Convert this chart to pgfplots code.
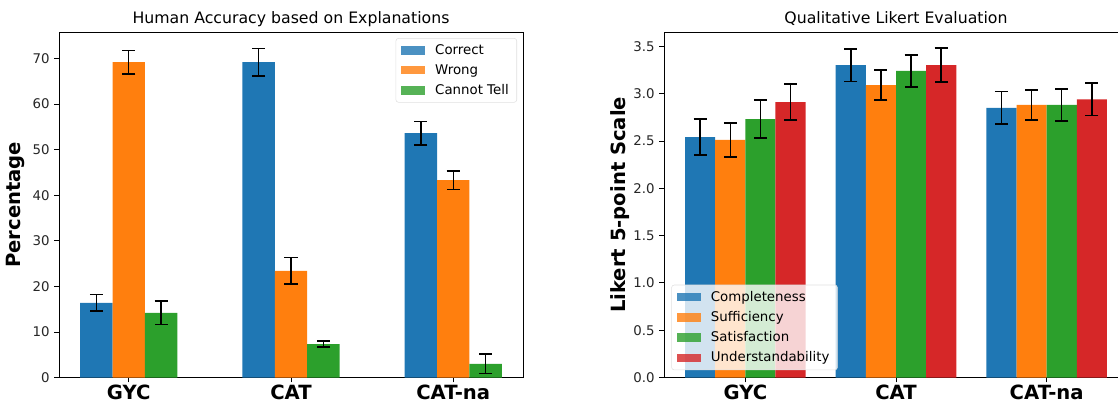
\documentclass[border=0pt]{standalone}
\usepackage{fontspec}
\setmainfont{DejaVu Sans}
\usepackage{pgfplots}
\pgfplotsset{compat=1.18}

\definecolor{tabblue}{HTML}{1F77B4}
\definecolor{taborange}{HTML}{FF7F0E}
\definecolor{tabgreen}{HTML}{2CA02C}
\definecolor{tabred}{HTML}{D62728}

\pgfplotsset{
  mplbars/.style={
    scale only axis,
    anchor=south west,
    width=348pt, height=259.1pt,
    ybar, bar width=0.2,
    ymin=0,
    xtick={0,1,2},
    xticklabels={GYC,CAT,CAT-na},
    xtick pos=bottom, ytick pos=left,
    tick align=outside,
    major tick length=3.6pt,
    tick style={black, line width=0.6pt},
    axis line style={black, line width=0.6pt},
    /pgf/number format/assume math mode=true,
    yticklabel style={font=\fontsize{10}{12}\selectfont, color=black!85},
    xticklabel style={font=\bfseries\fontsize{14.7}{17}\selectfont, yshift=1.6pt},
    title style={font=\fontsize{11.8}{14}\selectfont, at={(axis description cs:0.5,1)}, anchor=base, yshift=0.5pt},
    ylabel style={font=\bfseries\fontsize{14.7}{17}\selectfont, anchor=center, rotate=0},
    legend image code/.code={\fill[##1, sharp corners] (0pt,-3.2pt) rectangle (18pt,3.2pt);},
    legend cell align=left,
    legend style={font=\fontsize{10}{12}\selectfont, draw=black!12, rounded corners=2pt,
      fill=white, fill opacity=0.8, text opacity=1, row sep=2.1pt,
      inner xsep=4pt, inner ysep=2.5pt,
      /tikz/every odd column/.append style={column sep=5.5pt}},
    error bars/y dir=both,
    error bars/y explicit,
    error bars/error bar style={black, line width=1.1pt},
    error bars/error mark options={black, rotate=90, mark size=4.9pt, line width=1.1pt},
  },
}

\begin{document}
\begin{tikzpicture}
\useasboundingbox (0,0) rectangle (838.5pt,302.25pt);
\clip (0,0) rectangle (838.5pt,302.25pt);

\begin{axis}[mplbars,
  at={(44.25pt,19.1pt)},
  xmin=-0.43, xmax=2.43,
  ymax=75.8,
  ytick={0,10,20,30,40,50,60,70},
  title={Human Accuracy based on Explanations},
  ylabel={Percentage},
  ylabel style={at={(axis description cs:-0.094,0.5)}},
  legend style={at={(axis description cs:1,1)}, anchor=north east, xshift=-4.5pt, yshift=-4.5pt},
]
\addplot[fill=tabblue, draw=none, bar shift=-0.2] coordinates {
  (0,16.4) +- (0,1.85) (1,69.2) +- (0,3.0) (2,53.6) +- (0,2.6)};
\addplot[fill=taborange, draw=none, bar shift=0] coordinates {
  (0,69.2) +- (0,2.6) (1,23.4) +- (0,2.9) (2,43.3) +- (0,2.05)};
\addplot[fill=tabgreen, draw=none, bar shift=0.2] coordinates {
  (0,14.2) +- (0,2.55) (1,7.35) +- (0,0.7) (2,3.0) +- (0,2.15)};
\legend{Correct, Wrong, Cannot Tell}
\end{axis}

\begin{axis}[mplbars,
  at={(498pt,19.1pt)},
  xmin=-0.54, xmax=2.54,
  ymax=3.65,
  ytick={0,0.5,1,1.5,2,2.5,3,3.5},
  yticklabel style={/pgf/number format/fixed, /pgf/number format/fixed zerofill, /pgf/number format/precision=1},
  title={Qualitative Likert Evaluation},
  ylabel={Likert 5-point Scale},
  ylabel style={at={(axis description cs:-0.095,0.5)}},
  legend style={at={(axis description cs:0,0)}, anchor=south west, xshift=5.5pt, yshift=5.5pt},
]
\addplot[fill=tabblue, draw=none, bar shift=-0.3] coordinates {
  (0,2.54) +- (0,0.19) (1,3.30) +- (0,0.17) (2,2.85) +- (0,0.17)};
\addplot[fill=taborange, draw=none, bar shift=-0.1] coordinates {
  (0,2.51) +- (0,0.18) (1,3.09) +- (0,0.16) (2,2.88) +- (0,0.16)};
\addplot[fill=tabgreen, draw=none, bar shift=0.1] coordinates {
  (0,2.73) +- (0,0.20) (1,3.24) +- (0,0.17) (2,2.88) +- (0,0.17)};
\addplot[fill=tabred, draw=none, bar shift=0.3] coordinates {
  (0,2.91) +- (0,0.19) (1,3.30) +- (0,0.18) (2,2.94) +- (0,0.17)};
\legend{Completeness, Sufficiency, Satisfaction, Understandability}
\end{axis}
\end{tikzpicture}
\end{document}
